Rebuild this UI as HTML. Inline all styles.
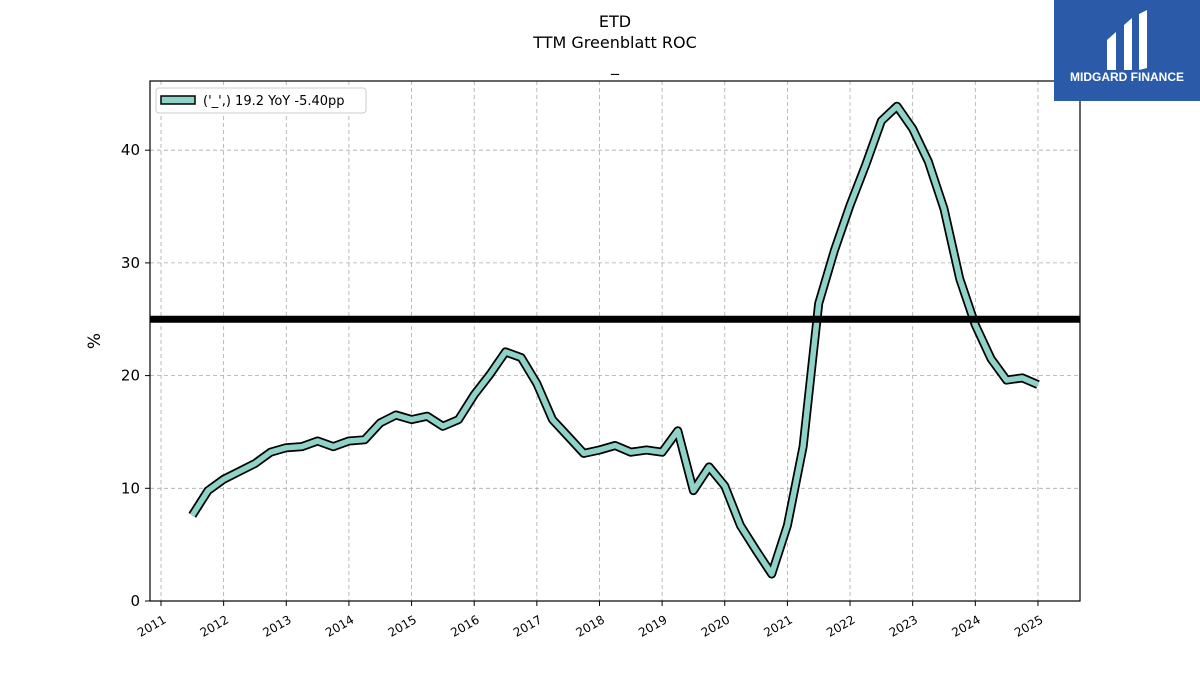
<!DOCTYPE html>
<html><head><meta charset="utf-8"><style>
body{margin:0;background:#fff;font-family:"Liberation Sans","DejaVu Sans",sans-serif}
svg text{font-family:"DejaVu Sans","Liberation Sans",sans-serif}
</style></head><body>
<svg id="chart" width="1200" height="675" xmlns="http://www.w3.org/2000/svg">
<rect width="1200" height="675" fill="#fff"/>
<text x="615" y="27" font-size="16" text-anchor="middle">ETD</text>
<text x="615" y="48" font-size="16" text-anchor="middle">TTM Greenblatt ROC</text>
<text x="615" y="71" font-size="16" text-anchor="middle">_</text>
<g id="grid"></g>
<g id="series"></g>
<rect x="150" y="81" width="930" height="520" fill="none" stroke="#000" stroke-width="1.2"/>
<g id="axes"></g>
<text x="100" y="341" font-size="17" text-anchor="middle" transform="rotate(-90 100 341)">%</text>
<g>
<rect x="156" y="88" width="210" height="25" rx="3" fill="#fff" stroke="#ccc"/>
<rect x="161" y="96" width="34" height="8" fill="#8dd3c7" stroke="#000" stroke-width="1.5"/>
<text x="203" y="105" font-size="13">('_',) 19.2 YoY -5.40pp</text>
</g>
<g>
<rect x="1054" y="0" width="146" height="101" fill="#2b5aa8"/>
<path d="M1107 40 L1116 32 L1116 70 L1107 70 Z M1124 25 L1132 18 L1132 70 L1124 70 Z M1139 14 L1147 10 L1147 68 L1139 70 Z" fill="#fff"/>
<text x="1127" y="81" font-size="12" font-weight="bold" fill="#fff" text-anchor="middle" style="font-family:'Liberation Sans',sans-serif">MIDGARD FINANCE</text>
</g>
</svg>
<script>
const values=[7.6,9.8,10.8,11.5,12.2,13.2,13.6,13.7,14.2,13.7,14.2,14.3,15.8,16.5,16.1,16.4,15.5,16.1,18.3,20.1,22.1,21.6,19.3,16.1,14.6,13.1,13.4,13.8,13.2,13.4,13.2,15.1,9.8,11.9,10.2,6.7,4.5,2.4,6.7,13.7,26.4,31.1,35.1,38.7,42.6,43.9,41.9,39.0,34.8,28.6,24.5,21.5,19.6,19.8,19.2];
const startYear=2011.5, stepYear=0.25;
const yTicks=[0,10,20,30,40];
const xTicks=[2011,2012,2013,2014,2015,2016,2017,2018,2019,2020,2021,2022,2023,2024,2025];
const refLevel=25;
const NS="http://www.w3.org/2000/svg";
const X=y=>161+(y-2011)*62.64;
const Y=v=>601-v*11.27;
function mk(t,a,p){const e=document.createElementNS(NS,t);for(const k in a)e.setAttribute(k,a[k]);p.appendChild(e);return e;}
const grid=document.getElementById('grid'),axes=document.getElementById('axes'),ser=document.getElementById('series');
yTicks.forEach(v=>{
 const g=mk('line',{x1:150,x2:1080,y1:Y(v),y2:Y(v),stroke:'#aaa','stroke-dasharray':'4,3','stroke-width':0.8},grid);
 
 
 mk('line',{x1:145,x2:150,y1:Y(v),y2:Y(v),stroke:'#000'},axes);
 const t=mk('text',{x:140,y:Y(v)+5,'font-size':15,'text-anchor':'end'},axes);t.textContent=v;
 
 
});
xTicks.forEach(v=>{
 const g=mk('line',{x1:X(v),x2:X(v),y1:81,y2:601,stroke:'#aaa','stroke-dasharray':'4,3','stroke-width':0.8},grid);
 
 
 mk('line',{x1:X(v),x2:X(v),y1:601,y2:606,stroke:'#000'},axes);
 const t=mk('text',{x:X(v)+6,y:622,'font-size':12,'text-anchor':'end',transform:`rotate(-30 ${X(v)+6} 622)`},axes);t.textContent=v;
 
 
});
const pts=values.map((v,i)=>X(startYear+i*stepYear).toFixed(1)+','+Y(v).toFixed(1)).join(' ');
const o=mk('polyline',{points:pts,fill:'none',stroke:'#000','stroke-width':9,'stroke-linejoin':'round'},ser);


const l=mk('polyline',{points:pts,fill:'none',stroke:'#8dd3c7','stroke-width':5.5,'stroke-linejoin':'round'},ser);


const r=mk('line',{x1:150,x2:1080,y1:Y(refLevel),y2:Y(refLevel),stroke:'#000','stroke-width':7},ser);


</script>
</body></html>
